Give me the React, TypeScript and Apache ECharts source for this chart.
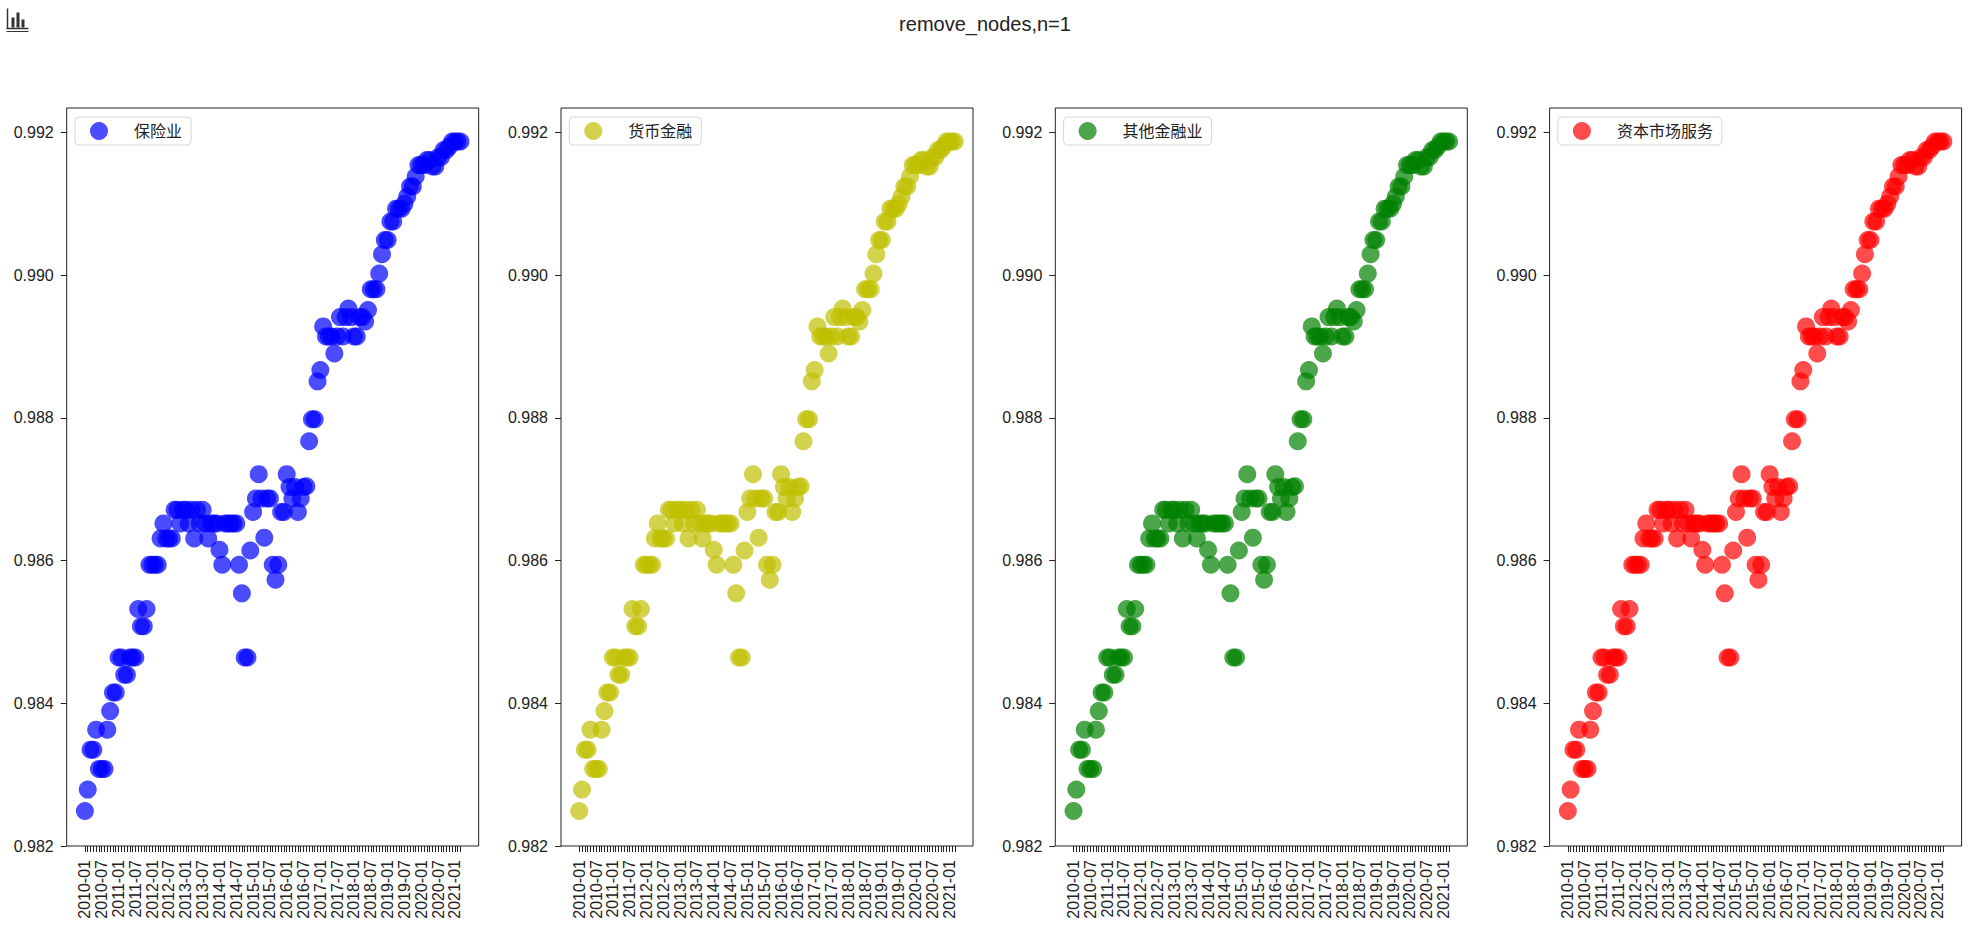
import React, { useEffect, useRef } from "react";
import * as echarts from "echarts";

// ---------- data ----------
const months: string[] = [];
for (let y = 2010; y <= 2021; y++) {
  for (let m = 1; m <= 12; m++) {
    if (y === 2021 && m > 3) break;
    months.push(`${y}-${String(m).padStart(2, "0")}`);
  }
}

const PAD = 6;
const padLeft = Array.from({ length: PAD }, (_, i) => `_a${i}`);
const padRight = Array.from({ length: PAD }, (_, i) => `_b${i}`);
const categories = [...padLeft, ...months, ...padRight];

const values: number[] = [
  0.98249, 0.98279, 0.98335, 0.98335, 0.98363, 0.98308, 0.98308, 0.98308, 0.98363, 0.98389,
  0.98415, 0.98415, 0.98464, 0.98464, 0.9844, 0.9844, 0.98464, 0.98464, 0.98464, 0.98532,
  0.98508, 0.98508, 0.98532, 0.98594, 0.98594, 0.98594, 0.98594, 0.98631, 0.98652, 0.98631,
  0.98631, 0.98631, 0.98671, 0.98671, 0.98652, 0.98671, 0.98671, 0.98652, 0.98671, 0.98631,
  0.98671, 0.98652, 0.98671, 0.98652, 0.98631, 0.98652, 0.98652, 0.98652, 0.98615, 0.98594,
  0.98652, 0.98652, 0.98652, 0.98652, 0.98652, 0.98594, 0.98554, 0.98464, 0.98464, 0.98614,
  0.98668, 0.98687, 0.98721, 0.98687, 0.98632, 0.98687, 0.98687, 0.98594, 0.98573, 0.98594,
  0.98668, 0.98668, 0.98721, 0.98703, 0.98687, 0.98703, 0.98668, 0.98687, 0.98703, 0.98704,
  0.98767, 0.98798, 0.98798, 0.98851, 0.98867, 0.98928, 0.98914, 0.98914, 0.98914, 0.9889,
  0.98914, 0.98941, 0.98914, 0.98941, 0.98953, 0.98941, 0.98914, 0.98914, 0.98941, 0.98941,
  0.98935, 0.98951, 0.9898, 0.9898, 0.9898, 0.99002, 0.99029, 0.99049, 0.99049, 0.99075,
  0.99075, 0.99093, 0.99093, 0.99093, 0.991, 0.9911, 0.99124, 0.99124, 0.99138, 0.99154,
  0.99154, 0.99154, 0.99161, 0.99161, 0.99152, 0.99152, 0.99165, 0.99165, 0.99175, 0.99175,
  0.9918, 0.99187, 0.99187, 0.99187, 0.99187,
];

const sectorNames = ["保险业", "货币金融", "其他金融业", "资本市场服务"];
const sectorColors = ["#0000ff", "#bfbf00", "#008000", "#ff0000"];
const yTicks = [0.982, 0.984, 0.986, 0.988, 0.99, 0.992];
const chartTitle = "remove_nodes,n=1";

// ---------- layout ----------
const FONT = "'Liberation Sans', Arial, 'Noto Sans CJK SC', sans-serif";
const GRID_LEFT0 = 66.7;
const GRID_STEP = 494.3;
const GRID_TOP = 108;
const GRID_W = 412;
const GRID_H = 738;
const INK = "#222";

function buildOption() {
  const grid = sectorNames.map((_, k) => ({
    left: GRID_LEFT0 + k * GRID_STEP,
    top: GRID_TOP,
    width: GRID_W,
    height: GRID_H,
    show: true,
    borderColor: INK,
    borderWidth: 1,
    backgroundColor: "transparent",
  }));

  const xAxis = sectorNames.map((_, k) => ({
    type: "category",
    gridIndex: k,
    data: categories,
    boundaryGap: true,
    axisLine: { show: false },
    axisTick: {
      show: true,
      alignWithLabel: true,
      interval: (_i: number, v: string) => !v.startsWith("_"),
      length: 6,
      lineStyle: { color: INK, width: 1 },
    },
    axisLabel: {
      interval: (i: number, v: string) => !v.startsWith("_") && (i - PAD) % 6 === 0,
      rotate: 90,
      margin: 14,
      fontSize: 16,
      color: INK,
      fontFamily: FONT,
    },
    splitLine: { show: false },
  }));

  const yAxis = sectorNames.map((_, k) => ({
    type: "value",
    gridIndex: k,
    min: 0.982,
    max: 0.99234,
    axisLine: { show: false },
    axisTick: {
      show: true,
      length: 6,
      customValues: yTicks,
      lineStyle: { color: INK, width: 1 },
    },
    axisLabel: {
      customValues: yTicks,
      formatter: (v: number) => v.toFixed(3),
      margin: 13,
      fontSize: 16,
      color: INK,
      fontFamily: FONT,
    },
    splitLine: { show: false },
  }));

  const series = sectorNames.map((name, k) => ({
    type: "scatter",
    name,
    xAxisIndex: k,
    yAxisIndex: k,
    data: values.map((v, i) => [i + PAD, v]),
    symbol: "circle",
    symbolSize: 18,
    itemStyle: { color: sectorColors[k], opacity: 0.7 },
    emphasis: { disabled: true },
  }));

  const legend = sectorNames.map((name, k) => ({
    data: [name],
    left: GRID_LEFT0 + k * GRID_STEP + 8.3,
    top: 117,
    orient: "horizontal",
    icon: "circle",
    itemWidth: 18,
    itemHeight: 18,
    padding: [5, 9, 5, 15],
    borderColor: "#d6d6d6",
    borderWidth: 1,
    borderRadius: 4,
    backgroundColor: "rgba(255,255,255,0.8)",
    selectedMode: false,
    textStyle: { fontSize: 16, color: INK, fontFamily: FONT, padding: [0, 0, 0, 21] },
  }));

  const graphic = [
    {
      type: "group",
      left: 4,
      top: 6,
      children: [
        { type: "line", shape: { x1: 1, y1: 0, x2: 1, y2: 20 }, style: { stroke: "#333", lineWidth: 1.5 } },
        { type: "line", shape: { x1: 0, y1: 20, x2: 22, y2: 20 }, style: { stroke: "#333", lineWidth: 1.5 } },
        { type: "rect", shape: { x: 5, y: 9, width: 3, height: 10 }, style: { fill: "#333" } },
        { type: "rect", shape: { x: 10, y: 4, width: 3, height: 15 }, style: { fill: "#333" } },
        { type: "rect", shape: { x: 15, y: 11, width: 3, height: 8 }, style: { fill: "#333" } },
        { type: "line", shape: { x1: 0, y1: 23, x2: 22, y2: 23 }, style: { stroke: "#333", lineWidth: 1 } },
      ],
    },
  ];

  return {
    animation: false,
    backgroundColor: "#ffffff",
    title: {
      text: chartTitle,
      left: "center",
      top: 9,
      textStyle: { fontSize: 20, fontWeight: "normal", color: INK, fontFamily: FONT },
    },
    grid,
    xAxis,
    yAxis,
    series,
    legend,
    graphic,
  };
}

export default function App() {
  const ref = useRef<HTMLDivElement>(null);
  useEffect(() => {
    if (!ref.current) return;
    const chart = echarts.init(ref.current, undefined, { renderer: "svg" });
    chart.setOption(buildOption() as any);
    return () => chart.dispose();
  }, []);
  return (
    <div
      ref={ref}
      style={{ position: "fixed", left: 0, top: 0, width: 1970, height: 938, background: "#fff" }}
    />
  );
}
